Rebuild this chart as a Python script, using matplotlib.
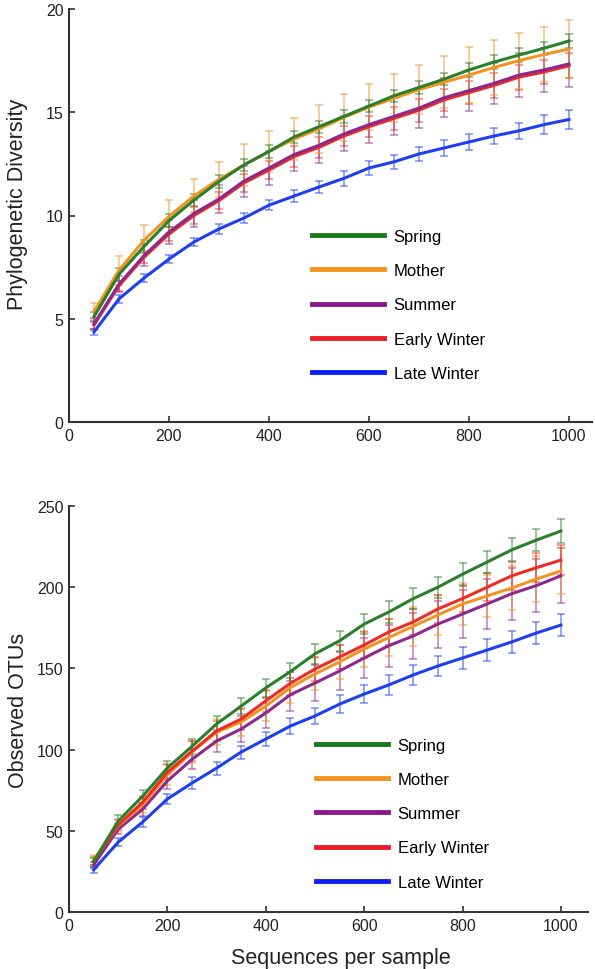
import numpy as np
import matplotlib
matplotlib.use('Agg')
import matplotlib.pyplot as plt

plt.rcParams['font.family'] = ['Liberation Sans', 'DejaVu Sans']

# ---------------- data ----------------
SEQS = [50, 100, 150, 200, 250, 300, 350, 400, 450, 500,
        550, 600, 650, 700, 750, 800, 850, 900, 950, 1000]
GROUPS = ['Spring', 'Mother', 'Summer', 'Early Winter', 'Late Winter']

# phylogenetic diversity
pd_spring = [5.1, 7.15, 8.5, 9.75, 10.75, 11.65, 12.45, 13.1, 13.8, 14.3,
             14.8, 15.3, 15.8, 16.2, 16.6, 17.05, 17.43, 17.77, 18.1, 18.45]
pd_mother = [5.35, 7.35, 8.8, 9.95, 10.95, 11.75, 12.45, 13.1, 13.7, 14.2,
             14.75, 15.25, 15.68, 16.1, 16.45, 16.8, 17.17, 17.5, 17.8, 18.06]
pd_summer = [4.75, 6.68, 8.05, 9.2, 10.1, 10.8, 11.67, 12.3, 12.95, 13.4,
             13.95, 14.4, 14.8, 15.2, 15.7, 16.05, 16.4, 16.8, 17.05, 17.34]
pd_early = [4.7, 6.6, 7.98, 9.1, 10.0, 10.72, 11.58, 12.2, 12.85, 13.3,
            13.85, 14.3, 14.7, 15.1, 15.6, 15.95, 16.3, 16.7, 16.95, 17.25]
pd_late = [4.36, 5.96, 6.97, 7.89, 8.72, 9.35, 9.88, 10.5, 10.94, 11.38,
           11.8, 12.3, 12.6, 12.98, 13.27, 13.56, 13.85, 14.1, 14.4, 14.65]

pd_spring_err = [0.25, 0.3, 0.3, 0.3, 0.3, 0.3, 0.3, 0.3, 0.3, 0.3,
                 0.3, 0.3, 0.3, 0.3, 0.3, 0.32, 0.32, 0.32, 0.32, 0.32]
pd_mother_err = [0.4, 0.7, 0.75, 0.8, 0.8, 0.85, 1.0, 1.0, 1.0, 1.15,
                 1.15, 1.1, 1.15, 1.2, 1.25, 1.35, 1.35, 1.35, 1.35, 1.4]
pd_summer_err = [0.3, 0.4, 0.5, 0.6, 0.65, 0.7, 0.75, 0.8, 0.8, 0.85,
                 0.85, 0.9, 0.9, 0.95, 0.95, 1.0, 1.0, 1.05, 1.05, 1.1]
pd_early_err = [0.2, 0.25, 0.3, 0.35, 0.4, 0.4, 0.45, 0.45, 0.5, 0.5,
                0.5, 0.5, 0.55, 0.55, 0.55, 0.55, 0.6, 0.6, 0.6, 0.6]
pd_late_err = [0.15, 0.2, 0.2, 0.2, 0.2, 0.25, 0.25, 0.25, 0.3, 0.3,
               0.35, 0.35, 0.35, 0.35, 0.4, 0.4, 0.4, 0.4, 0.45, 0.48]

# observed OTUs
otu_spring = [31, 56, 71.4, 88.7, 102, 115.8, 126.8, 138, 148, 159,
              167, 177.3, 184.7, 193, 200, 208, 215.5, 223, 229, 234.6]
otu_mother = [32, 53, 66, 84.4, 98.5, 110.8, 117, 126.8, 138.2, 146.6,
              154, 162, 169, 176, 182.9, 189.7, 194.6, 199.5, 205, 210]
otu_summer = [29, 51, 63.4, 80.7, 94, 105.3, 112.7, 122.5, 133.8, 141,
              148.4, 156.4, 164, 170, 177.3, 183.5, 189.7, 196, 201, 207]
otu_early = [31, 53.6, 67.7, 86, 99, 111.5, 118.8, 130, 140.8, 149.6,
             157, 164.4, 172.4, 178.6, 186.6, 193, 200, 207, 212, 216.7]
otu_late = [26, 43, 55.5, 69.6, 79.4, 88.6, 98.5, 106.5, 114.5, 120.7,
            128, 134.2, 139.8, 146, 151.5, 156.4, 161.3, 166.3, 171.8, 176.7]

otu_spring_err = [3, 4, 4, 4, 4.5, 5, 5, 5.5, 5.5, 6,
                  6, 6, 6.5, 6.5, 6.5, 7, 7, 7, 7, 7.4]
otu_mother_err = [3, 4, 5, 6, 7, 8, 8.5, 9, 9.5, 10,
                  10.5, 11, 11.5, 12, 12.5, 13, 13, 13.5, 14, 14]
otu_summer_err = [2, 3, 4, 5, 6, 7, 8, 9, 10, 11,
                  12, 12.5, 13, 14, 14.5, 15, 15.5, 16, 16.5, 17]
otu_early_err = [2, 3, 4, 5, 6, 6, 6.5, 7, 7, 7.5,
                 7.5, 8, 8, 8, 8.5, 8.5, 8.5, 8.5, 9, 9]
otu_late_err = [2, 2.5, 3, 3, 3.5, 4, 4, 4.5, 5, 5,
                5.5, 5.5, 6, 6, 6, 6.5, 6.5, 7, 7, 7]

LINE_COL = {'Spring': '#2a7f2a', 'Mother': '#f39322', 'Summer': '#8c2a8c',
            'Early Winter': '#ee2b24', 'Late Winter': '#1e3ff0'}
LEG_COL = {'Spring': '#177a17', 'Mother': '#f7941d', 'Summer': '#8a1a8a',
           'Early Winter': '#ee1d23', 'Late Winter': '#0d21f5'}


def draw_panel(ax, series, errs, order):
    x = np.array(SEQS)
    for k, name in enumerate(order):
        ax.errorbar(x, series[name], yerr=errs[name], fmt='none',
                    ecolor=LINE_COL[name], elinewidth=1.3, capsize=3.2,
                    capthick=1.3, alpha=0.5, zorder=2 + k)
    for k, name in enumerate(order):
        ax.plot(x, series[name], color=LINE_COL[name], lw=2.2, zorder=10 + k)
    # legend handles (thicker, in the legend order)
    handles = [plt.Line2D([], [], color=LEG_COL[g], lw=3.5) for g in GROUPS]
    return handles


def style_axes(ax, ylim, yticks, xmax):
    ax.set_xlim(0, xmax)
    ax.set_ylim(*ylim)
    ax.set_xticks([0, 200, 400, 600, 800, 1000])
    ax.set_yticks(yticks)
    for s in ['top', 'right']:
        ax.spines[s].set_visible(False)
    for s in ['left', 'bottom']:
        ax.spines[s].set_linewidth(1.5)
        ax.spines[s].set_color('#333333')
    ax.tick_params(direction='in', length=4, width=1.2, color='#333333',
                   labelsize=11.5, labelcolor='#222222', pad=4)


fig = plt.figure(figsize=(5.95, 9.70), dpi=100)
W, H = 595., 970.
LEG_KW = dict(loc='upper left', frameon=False, fontsize=12,
              handlelength=4.3, handletextpad=0.6, labelspacing=1.15,
              borderpad=0, borderaxespad=0, bbox_transform=fig.transFigure)

# ---------------- top panel ----------------
ax1 = fig.add_axes([69 / W, 1 - 423 / H, (592 - 69) / W, 413 / H])
pd_series = {'Spring': pd_spring, 'Mother': pd_mother, 'Summer': pd_summer,
             'Early Winter': pd_early, 'Late Winter': pd_late}
pd_errs = {'Spring': pd_spring_err, 'Mother': pd_mother_err,
           'Summer': pd_summer_err, 'Early Winter': pd_early_err,
           'Late Winter': pd_late_err}
h = draw_panel(ax1, pd_series, pd_errs,
               ['Late Winter', 'Early Winter', 'Summer', 'Mother', 'Spring'])
style_axes(ax1, (0, 20), [0, 5, 10, 15, 20], 1046)
ax1.set_ylabel('Phylogenetic Diversity', fontsize=15.5, color='#222222')
ax1.yaxis.set_label_coords(-0.078, 0.53)
ax1.legend(h, GROUPS, bbox_to_anchor=(312 / W, 1 - 230 / H), **LEG_KW)

# ---------------- bottom panel ----------------
ax2 = fig.add_axes([69 / W, 1 - 913 / H, (588 - 69) / W, 406 / H])
otu_series = {'Spring': otu_spring, 'Mother': otu_mother,
              'Summer': otu_summer, 'Early Winter': otu_early,
              'Late Winter': otu_late}
otu_errs = {'Spring': otu_spring_err, 'Mother': otu_mother_err,
            'Summer': otu_summer_err, 'Early Winter': otu_early_err,
            'Late Winter': otu_late_err}
h = draw_panel(ax2, otu_series, otu_errs,
               ['Late Winter', 'Summer', 'Mother', 'Early Winter', 'Spring'])
style_axes(ax2, (0, 250), [0, 50, 100, 150, 200, 250], 1055)
ax2.set_ylabel('Observed OTUs', fontsize=15.5, color='#222222')
ax2.yaxis.set_label_coords(-0.078, 0.5)
ax2.set_xlabel('Sequences per sample', fontsize=15.5, color='#222222')
ax2.xaxis.set_label_coords(0.524, -0.085)
ax2.legend(h, GROUPS, bbox_to_anchor=(316 / W, 1 - 739 / H), **LEG_KW)

fig.savefig('out.png', dpi=100)
